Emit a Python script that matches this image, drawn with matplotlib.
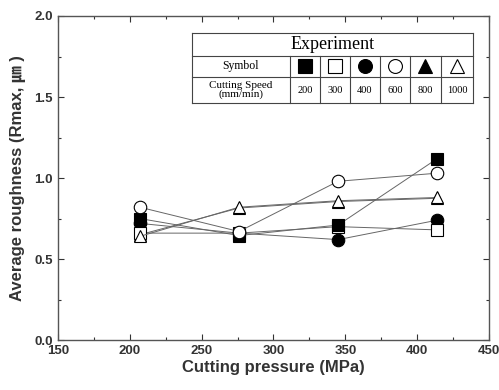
import matplotlib
matplotlib.use("Agg")
import matplotlib.pyplot as plt
from matplotlib.lines import Line2D

plt.rcParams['font.family'] = ['Liberation Sans', 'Noto Sans CJK KR', 'DejaVu Sans']

pressure = [207, 276, 345, 414]
speeds = ["200", "300", "400", "600", "800", "1000"]
markers = ['s', 's', 'o', 'o', '^', '^']
filled = [True, False, True, False, True, False]
roughness = {
    "200":  [0.75, 0.645, 0.71, 1.12],
    "300":  [0.66, 0.66, 0.70, 0.68],
    "400":  [0.72, 0.66, 0.62, 0.74],
    "600":  [0.82, 0.67, 0.98, 1.03],
    "800":  [0.65, 0.815, 0.855, 0.875],
    "1000": [0.64, 0.82, 0.86, 0.88],
}
zorders = [3.2, 3.0, 2.8, 3.4, 2.6, 3.6]
xticks = [150, 200, 250, 300, 350, 400, 450]
yticks = [0.0, 0.5, 1.0, 1.5, 2.0]

fig = plt.figure(figsize=(4.99, 3.90), dpi=100)
ax = fig.add_axes([0.116, 0.128, 0.864, 0.831])

for sp, m, f, z in zip(speeds, markers, filled, zorders):
    ax.plot(pressure, roughness[sp], color='#666666', lw=0.7,
            marker=m, markersize=9, markerfacecolor='black' if f else 'white',
            markeredgecolor='black', markeredgewidth=0.8, zorder=z)

ax.set_xlim(150, 450)
ax.set_ylim(0, 2.0)
ax.set_xticks(xticks)
ax.set_yticks(yticks)
ax.set_xticklabels([str(t) for t in xticks])
ax.set_yticklabels([f"{t:.1f}" for t in yticks])
ax.set_xticks([175, 225, 275, 325, 375, 425], minor=True)
ax.set_yticks([0.25, 0.75, 1.25, 1.75], minor=True)
ax.tick_params(which='both', direction='in', top=True, right=True, labelsize=9.5, width=0.8, colors='#333333')
ax.tick_params(which='major', length=4)
ax.tick_params(which='minor', length=2)
for lab in ax.get_xticklabels() + ax.get_yticklabels():
    lab.set_fontweight('bold')
    lab.set_color('#333333')
for s in ax.spines.values():
    s.set_linewidth(1.0)
    s.set_color('#555555')

ax.set_xlabel("Cutting pressure (MPa)", fontsize=12, fontweight='bold', color='#333333', labelpad=2)
ax.set_ylabel("Average roughness (Rmax, ㎛ )", fontsize=12, fontweight='bold', color='#333333', labelpad=6)

# legend table
T = ax.transAxes
x0, x1 = 0.311, 0.963
cols = [0.311, 0.538, 0.608, 0.677, 0.747, 0.817, 0.888, 0.963]
yt, y1, y2, yb = 0.948, 0.877, 0.812, 0.731
lk = dict(color='#444444', lw=0.8, transform=T, zorder=5)
for yy in [yt, y1, y2, yb]:
    ax.add_line(Line2D([x0, x1], [yy, yy], **lk))
ax.add_line(Line2D([x0, x0], [yb, yt], **lk))
ax.add_line(Line2D([x1, x1], [yb, yt], **lk))
for cx in cols[1:-1]:
    ax.add_line(Line2D([cx, cx], [yb, y1], **lk))
ax.add_patch(plt.Rectangle((x0, yb), x1 - x0, yt - yb, transform=T, facecolor='white', edgecolor='none', zorder=4))

serif = ['Liberation Serif', 'DejaVu Serif']
ax.text((x0 + x1) / 2, (yt + y1) / 2, "Experiment", transform=T, ha='center', va='center',
        fontsize=13, family=serif, zorder=6)
ax.text((cols[0] + cols[1]) / 2, (y1 + y2) / 2, "Symbol", transform=T, ha='center', va='center',
        fontsize=8.5, family=serif, zorder=6)
ax.text((cols[0] + cols[1]) / 2, (y2 + yb) / 2, "Cutting Speed\n(mm/min)", transform=T, ha='center', va='center',
        fontsize=8, family=serif, zorder=6, linespacing=1.0)
for i, (sp, m, f) in enumerate(zip(speeds, markers, filled)):
    cx = (cols[i + 1] + cols[i + 2]) / 2
    ax.plot([cx], [(y1 + y2) / 2], transform=T, marker=m, markersize=10,
            markerfacecolor='black' if f else 'white', markeredgecolor='black',
            markeredgewidth=0.8, zorder=6, clip_on=False)
    ax.text(cx, (y2 + yb) / 2, sp, transform=T, ha='center', va='center',
            fontsize=7.5, family=serif, zorder=6)

fig.savefig("out.png", dpi=100)
